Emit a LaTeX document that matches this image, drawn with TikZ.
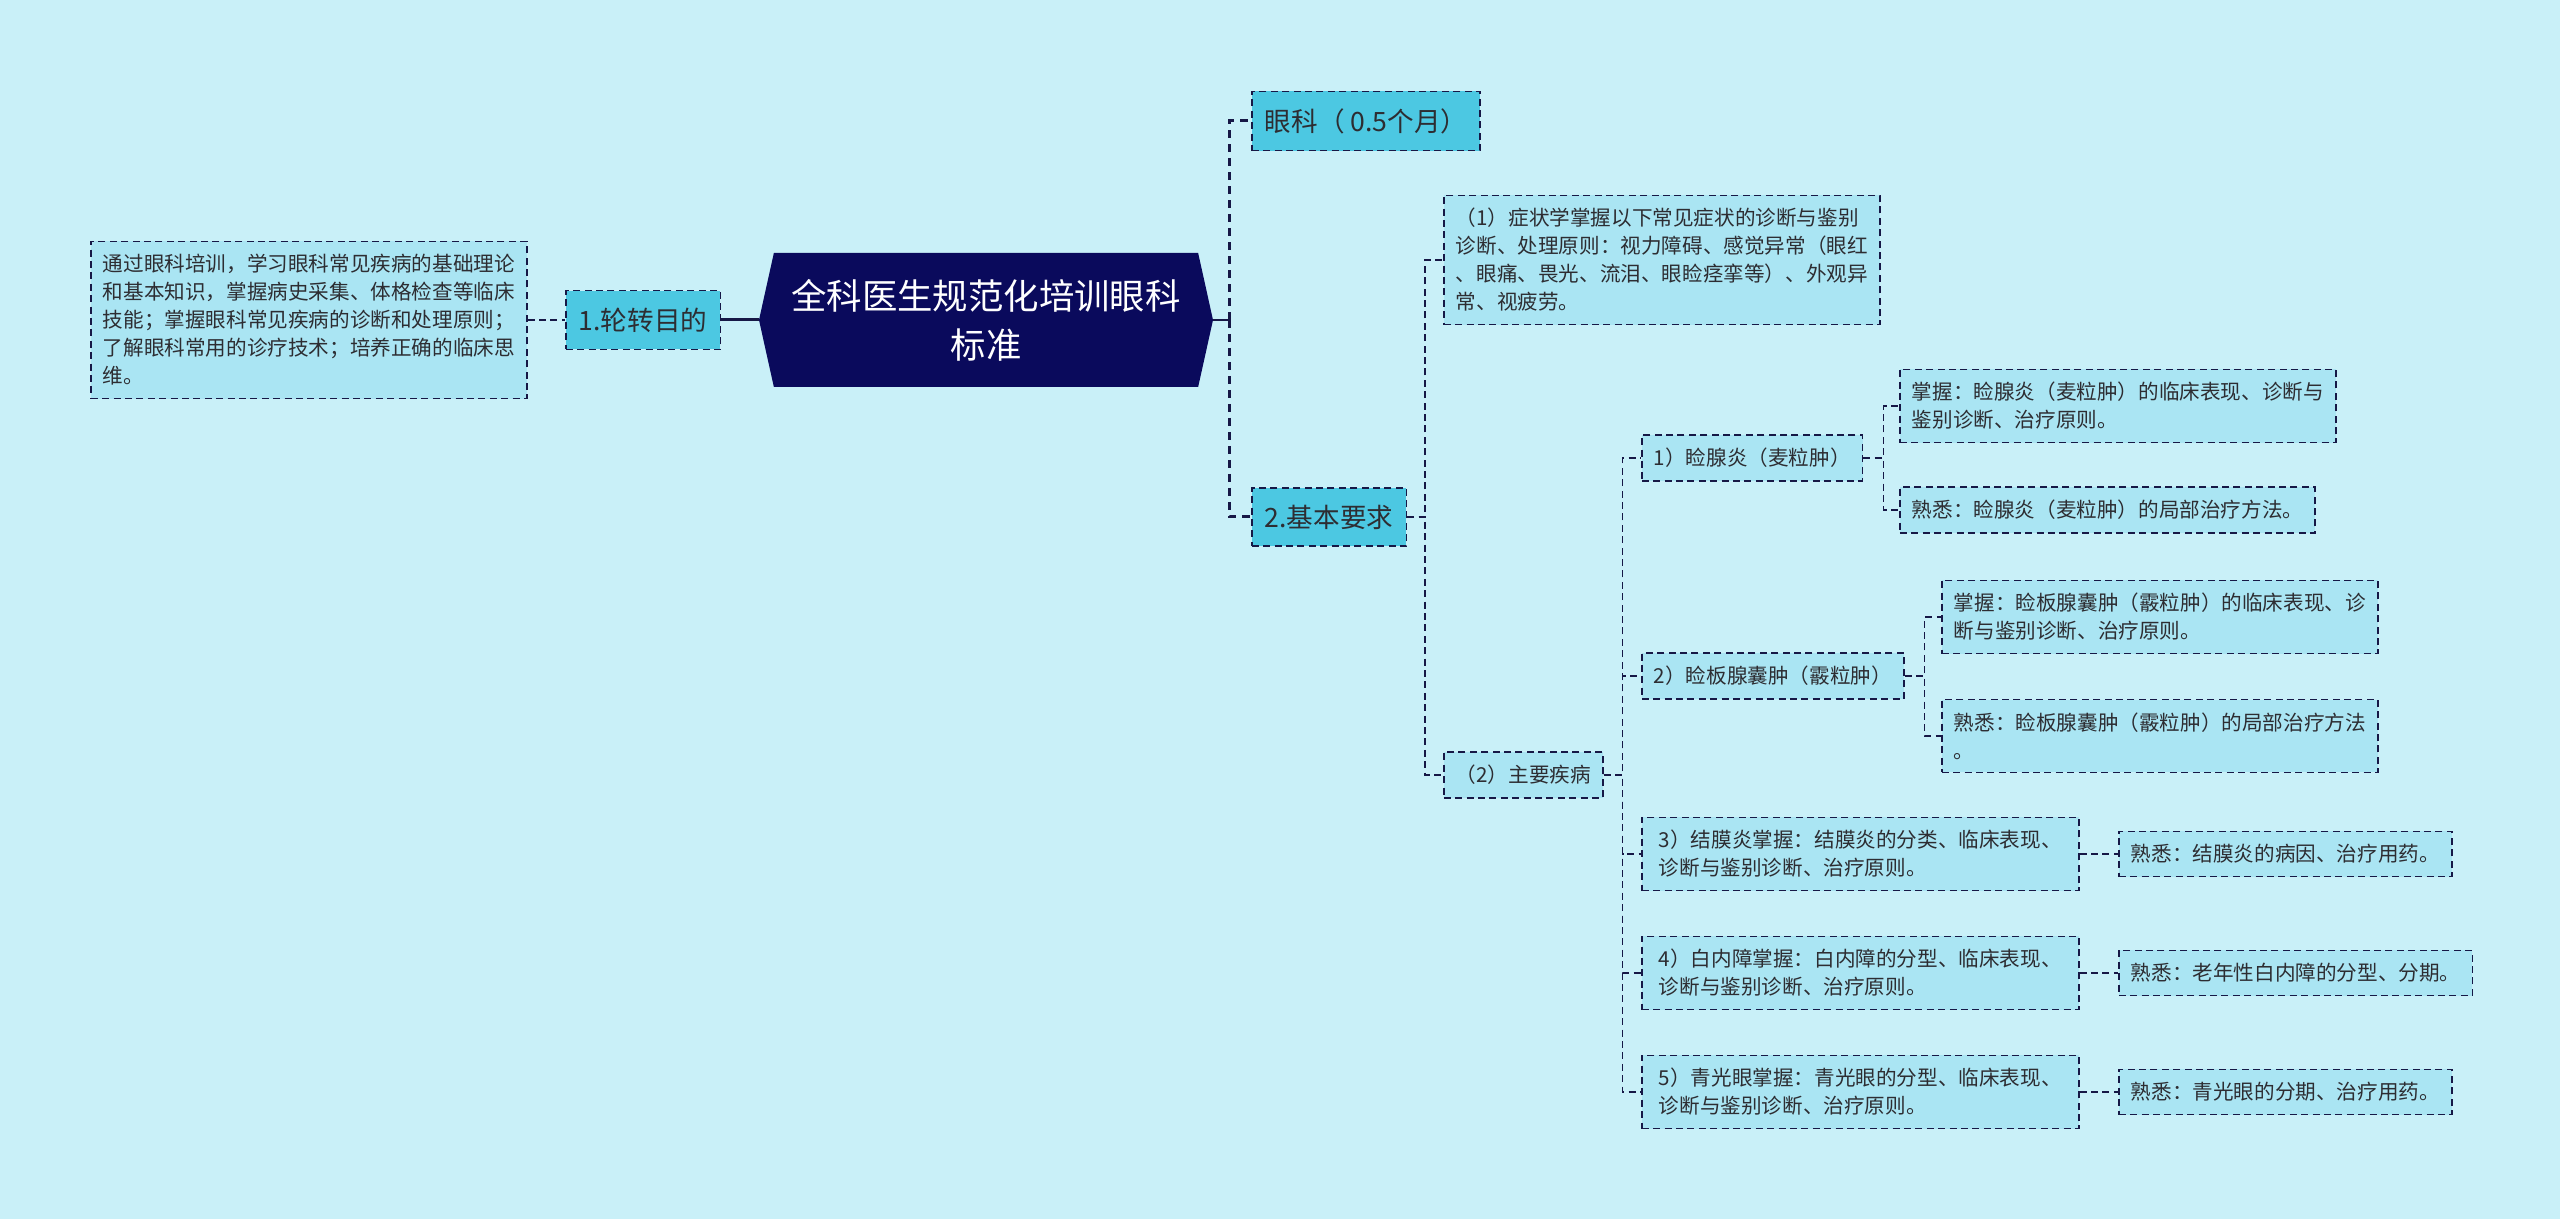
\documentclass[tikz,border=0pt]{standalone}
\usepackage{fontspec}
\setmainfont{Noto Sans CJK SC}
\usetikzlibrary{shapes.symbols}

\definecolor{bgcol}{RGB}{201,240,248}
\definecolor{leaffill}{RGB}{170,229,243}
\definecolor{branchfill}{RGB}{76,200,226}
\definecolor{rootfill}{RGB}{10,10,92}
\definecolor{linecol}{RGB}{22,24,70}
\definecolor{txtcol}{RGB}{45,45,50}

\begin{document}
\begin{tikzpicture}[x=0.5pt, y=-0.5pt,
    leaf/.style={draw=linecol, line width=0.8pt, dash pattern=on 3.5pt off 2.2pt,
      fill=leaffill, anchor=west, align=left, inner xsep=6pt, inner ysep=6.5pt,
      text=txtcol, font=\fontsize{10.3}{14}\selectfont},
    wideleaf/.style={leaf, minimum width=218.5pt},
    branch/.style={leaf, fill=branchfill, inner xsep=6.5pt, inner ysep=8.5pt,
      font=\fontsize{13.3}{16}\selectfont},
    rootbox/.style={signal, signal to=east and west, signal pointer angle=155,
      fill=rootfill, text=white, align=center, minimum width=227pt,
      minimum height=67pt, font=\fontsize{17.7}{24.5}\selectfont},
    link/.style={draw=linecol, line width=0.8pt, dash pattern=on 3.5pt off 2.2pt},
    trunk/.style={draw=linecol, line width=1.5pt, dash pattern=on 4pt off 3pt}]

  \fill[bgcol] (0,0) rectangle (2560,1219);
  \useasboundingbox (0,0) rectangle (2560,1219);

  % centre and left side
  \node[rootbox] (root) at (986,320) {全科医生规范化培训眼科\\标准};
  \node[branch] (lunzhuan) at (565,320) {1.轮转目的};
  \node[leaf] (goal) at (90,320) {通过眼科培训，学习眼科常见疾病的基础理论\\和基本知识，掌握病史采集、体格检查等临床\\技能；掌握眼科常见疾病的诊断和处理原则；\\了解眼科常用的诊疗技术；培养正确的临床思\\维。};

  % right side
  \node[branch] (yanke) at (1251,121) {眼科（ 0.5个月）};
  \node[branch] (jiben) at (1251,517) {2.基本要求};

  \node[leaf] (zhengzhuang) at (1443,260) {（1）症状学掌握以下常见症状的诊断与鉴别\\诊断、处理原则：视力障碍、感觉异常（眼红\\、眼痛、畏光、流泪、眼睑痉挛等）、外观异\\常、视疲劳。};
  \node[leaf] (jibing) at (1443,775) {（2）主要疾病};

  \node[leaf] (mai) at (1641,458) {1）睑腺炎（麦粒肿）};
  \node[leaf] (maiA) at (1899,406) {掌握：睑腺炎（麦粒肿）的临床表现、诊断与\\鉴别诊断、治疗原则。};
  \node[leaf] (maiB) at (1899,510) {熟悉：睑腺炎（麦粒肿）的局部治疗方法。};

  \node[leaf] (xia) at (1641,676) {2）睑板腺囊肿（霰粒肿）};
  \node[leaf] (xiaA) at (1941,617) {掌握：睑板腺囊肿（霰粒肿）的临床表现、诊\\断与鉴别诊断、治疗原则。};
  \node[leaf] (xiaB) at (1941,736) {熟悉：睑板腺囊肿（霰粒肿）的局部治疗方法\\。};

  \node[wideleaf] (jiemo) at (1641,854) {3）结膜炎掌握：结膜炎的分类、临床表现、\\诊断与鉴别诊断、治疗原则。};
  \node[leaf] (jiemoB) at (2118,854) {熟悉：结膜炎的病因、治疗用药。};

  \node[wideleaf] (neizhang) at (1641,973) {4）白内障掌握：白内障的分型、临床表现、\\诊断与鉴别诊断、治疗原则。};
  \node[leaf] (neizhangB) at (2118,973) {熟悉：老年性白内障的分型、分期。};

  \node[wideleaf] (qingguang) at (1641,1092) {5）青光眼掌握：青光眼的分型、临床表现、\\诊断与鉴别诊断、治疗原则。};
  \node[leaf] (qingguangB) at (2118,1092) {熟悉：青光眼的分期、治疗用药。};

  % connectors
  \draw[link] (goal.east) -- (lunzhuan.west);
  \draw[linecol, line width=1.5pt] (lunzhuan.east) -- (root.west);
  \draw[linecol, line width=1.2pt] (root.east) -- ++(16,0) coordinate (t1);
  \draw[trunk] (t1) |- (yanke.west);
  \draw[trunk] (t1) |- (jiben.west);

  \foreach \c in {zhengzhuang,jibing}
    \draw[link] (jiben.east) -- ++(18,0) |- (\c.west);
  \foreach \c in {mai,xia,jiemo,neizhang,qingguang}
    \draw[link] (jibing.east) -- ++(19,0) |- (\c.west);
  \foreach \c in {maiA,maiB}
    \draw[link] (mai.east) -- ++(20,0) |- (\c.west);
  \foreach \c in {xiaA,xiaB}
    \draw[link] (xia.east) -- ++(20,0) |- (\c.west);
  \draw[link] (jiemo.east) -- (jiemoB.west);
  \draw[link] (neizhang.east) -- (neizhangB.west);
  \draw[link] (qingguang.east) -- (qingguangB.west);
\end{tikzpicture}
\end{document}
